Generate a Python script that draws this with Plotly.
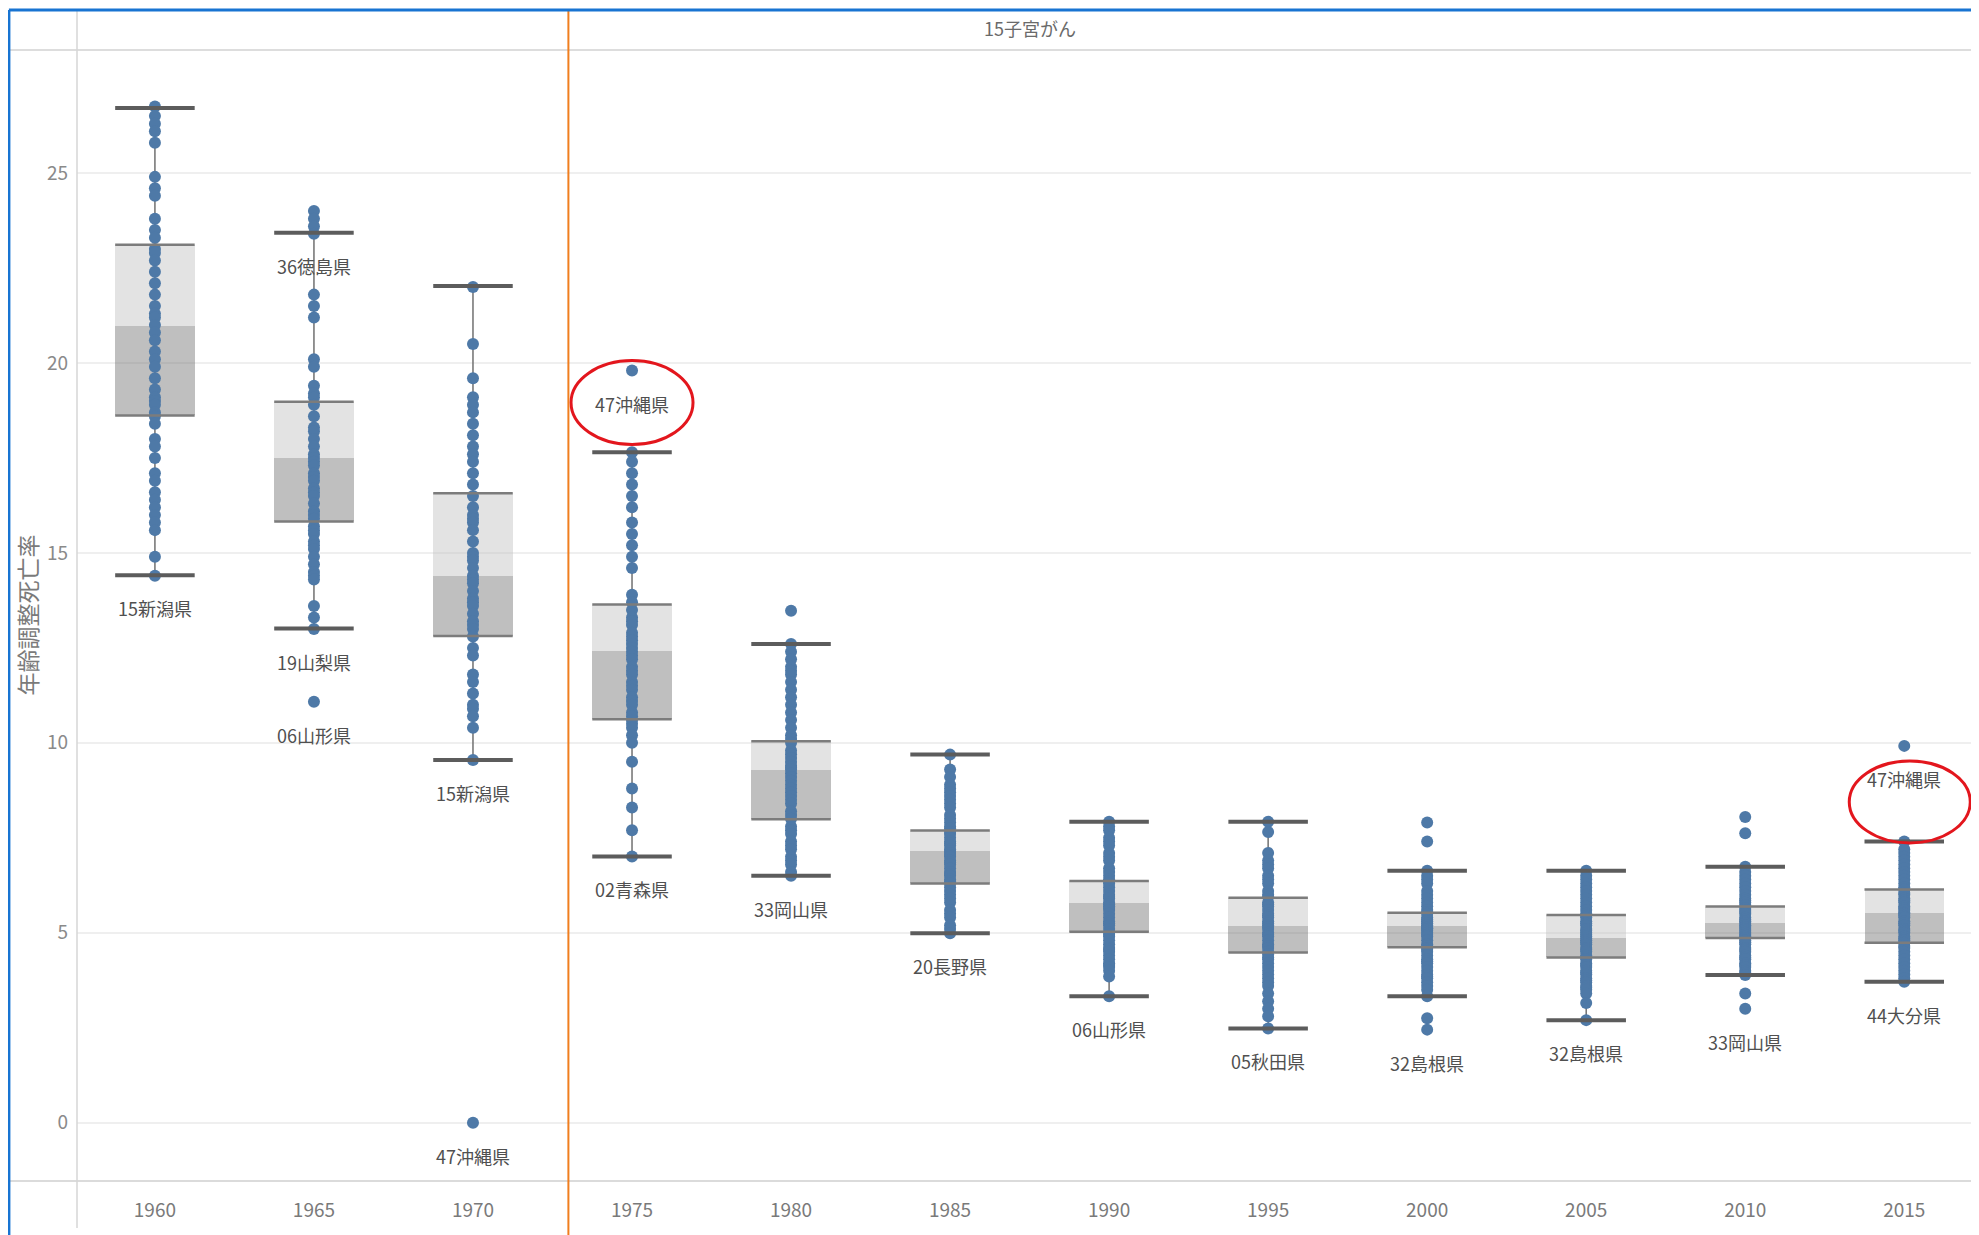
import plotly.graph_objects as go

years = ["1960", "1965", "1970", "1975", "1980", "1985", "1990", "1995", "2000", "2005", "2010", "2015"]

# prefecture rates (age-adjusted mortality) per year
rates_1960 = [26.75, 26.5, 26.3, 26.1, 25.8, 24.9, 24.6, 24.4, 23.8, 23.5, 23.3, 23.0, 22.9, 22.7, 22.4, 22.1,
              21.8, 21.5, 21.3, 21.2, 21.0, 20.8, 20.6, 20.3, 20.1, 19.9, 19.6, 19.3, 19.1, 19.0, 18.9, 18.7,
              18.6, 18.4, 18.0, 17.8, 17.5, 17.1, 16.9, 16.6, 16.4, 16.2, 16.0, 15.8, 15.6, 14.9, 14.4]
rates_1965 = [24.0, 23.8, 23.6, 23.4, 21.8, 21.5, 21.2, 20.1, 19.9, 19.4, 19.2, 19.1, 18.9, 18.6, 18.3, 18.2,
              18.0, 17.8, 17.6, 17.5, 17.4, 17.3, 17.1, 17.0, 16.9, 16.7, 16.6, 16.5, 16.3, 16.1, 16.0, 15.9,
              15.7, 15.6, 15.5, 15.3, 15.2, 15.1, 14.9, 14.7, 14.5, 14.4, 14.3, 13.6, 13.3, 13.0, 11.08]
rates_1970 = [22.0, 20.5, 19.6, 19.1, 18.9, 18.7, 18.4, 18.1, 17.8, 17.6, 17.4, 17.1, 16.8, 16.5, 16.2, 16.0,
              15.9, 15.8, 15.6, 15.3, 15.0, 14.9, 14.8, 14.6, 14.4, 14.3, 14.2, 14.0, 13.8, 13.7, 13.6, 13.4,
              13.2, 13.1, 13.0, 12.8, 12.5, 12.3, 11.8, 11.6, 11.3, 11.0, 10.9, 10.7, 10.4, 9.55, 0.0]
rates_1975 = [19.8, 17.65, 17.4, 17.1, 16.8, 16.5, 16.2, 15.8, 15.5, 15.2, 14.9, 14.6, 13.9, 13.7, 13.5, 13.3,
              13.2, 13.1, 12.9, 12.8, 12.7, 12.6, 12.5, 12.4, 12.3, 12.2, 12.0, 11.9, 11.8, 11.6, 11.5, 11.4,
              11.2, 11.1, 11.0, 10.8, 10.7, 10.6, 10.5, 10.4, 10.2, 10.0, 9.5, 8.8, 8.3, 7.7, 7.01]
rates_1980 = [13.48, 12.6, 12.4, 12.2, 12.0, 11.9, 11.8, 11.6, 11.4, 11.2, 11.0, 10.8, 10.6, 10.4, 10.2, 10.1,
              10.0, 9.8, 9.7, 9.6, 9.5, 9.4, 9.35, 9.3, 9.2, 9.1, 9.0, 8.9, 8.8, 8.7, 8.6, 8.5, 8.4, 8.2, 8.1,
              8.0, 7.8, 7.7, 7.6, 7.4, 7.3, 7.2, 7.0, 6.9, 6.8, 6.6, 6.5]
rates_1985 = [9.69, 9.3, 9.1, 8.9, 8.8, 8.7, 8.6, 8.5, 8.4, 8.3, 8.1, 8.0, 7.9, 7.8, 7.75, 7.65, 7.6, 7.5, 7.4,
              7.35, 7.3, 7.2, 7.15, 7.1, 7.05, 7.0, 6.9, 6.85, 6.8, 6.7, 6.6, 6.55, 6.5, 6.4, 6.35, 6.3, 6.2,
              6.1, 6.0, 5.9, 5.8, 5.6, 5.5, 5.4, 5.2, 5.1, 4.99]
rates_1990 = [7.92, 7.8, 7.7, 7.5, 7.4, 7.3, 7.1, 7.0, 6.9, 6.7, 6.6, 6.5, 6.4, 6.35, 6.3, 6.2, 6.1, 6.0, 5.95,
              5.9, 5.8, 5.75, 5.7, 5.65, 5.6, 5.5, 5.4, 5.3, 5.25, 5.2, 5.1, 5.0, 4.95, 4.9, 4.8, 4.7, 4.6,
              4.55, 4.5, 4.4, 4.3, 4.2, 4.15, 4.1, 4.0, 3.85, 3.33]
rates_1995 = [7.92, 7.65, 7.1, 6.9, 6.8, 6.7, 6.5, 6.4, 6.3, 6.1, 6.0, 5.95, 5.8, 5.75, 5.7, 5.6, 5.5, 5.45,
              5.4, 5.3, 5.25, 5.2, 5.15, 5.1, 5.0, 4.95, 4.9, 4.8, 4.7, 4.65, 4.6, 4.5, 4.43, 4.35, 4.3, 4.2,
              4.1, 4.0, 3.9, 3.8, 3.7, 3.6, 3.4, 3.2, 3.0, 2.8, 2.48]
rates_2000 = [7.9, 7.4, 6.63, 6.5, 6.4, 6.3, 6.1, 6.0, 5.9, 5.8, 5.7, 5.6, 5.55, 5.5, 5.4, 5.35, 5.3, 5.25,
              5.2, 5.15, 5.12, 5.1, 5.05, 5.0, 4.95, 4.9, 4.8, 4.7, 4.65, 4.6, 4.55, 4.5, 4.4, 4.3, 4.25, 4.2,
              4.1, 4.0, 3.9, 3.85, 3.8, 3.7, 3.6, 3.5, 3.33, 2.75, 2.45]
rates_2005 = [6.63, 6.5, 6.4, 6.3, 6.2, 6.1, 6.0, 5.9, 5.8, 5.7, 5.6, 5.5, 5.45, 5.4, 5.3, 5.25, 5.2, 5.1,
              5.05, 5.0, 4.95, 4.9, 4.85, 4.8, 4.75, 4.7, 4.6, 4.55, 4.5, 4.4, 4.35, 4.3, 4.2, 4.15, 4.1, 4.0,
              3.95, 3.9, 3.8, 3.75, 3.7, 3.6, 3.55, 3.5, 3.4, 3.15, 2.7]
rates_2010 = [8.05, 7.62, 6.74, 6.6, 6.5, 6.4, 6.3, 6.2, 6.1, 6.0, 5.9, 5.85, 5.8, 5.73, 5.65, 5.6, 5.55,
              5.5, 5.4, 5.35, 5.3, 5.26, 5.2, 5.15, 5.1, 5.05, 5.0, 4.95, 4.9, 4.86, 4.8, 4.75, 4.7, 4.6,
              4.55, 4.5, 4.4, 4.35, 4.3, 4.2, 4.15, 4.1, 4.0, 3.95, 3.89, 3.4, 3.0]
rates_2015 = [9.92, 7.4, 7.2, 7.1, 7.0, 6.9, 6.8, 6.7, 6.6, 6.5, 6.4, 6.3, 6.2, 6.14, 6.05, 6.0, 5.9, 5.85,
              5.8, 5.7, 5.65, 5.6, 5.53, 5.5, 5.45, 5.4, 5.3, 5.25, 5.2, 5.1, 5.05, 5.0, 4.9, 4.85, 4.8, 4.74,
              4.65, 4.6, 4.5, 4.4, 4.3, 4.2, 4.1, 4.0, 3.9, 3.8, 3.71]

# box statistics per year
whisker_low = [14.41, 13.01, 9.55, 7.01, 6.50, 4.99, 3.33, 2.48, 3.33, 2.70, 3.89, 3.71]
q1 = [18.62, 15.83, 12.81, 10.62, 7.99, 6.30, 5.03, 4.48, 4.62, 4.35, 4.86, 4.74]
median = [20.97, 17.51, 14.39, 12.42, 9.29, 7.14, 5.78, 5.19, 5.18, 4.85, 5.27, 5.53]
q3 = [23.11, 18.98, 16.57, 13.64, 10.04, 7.69, 6.36, 5.92, 5.53, 5.47, 5.69, 6.14]
whisker_high = [26.71, 23.43, 22.03, 17.65, 12.60, 9.69, 7.92, 7.92, 6.63, 6.63, 6.74, 7.40]

# prefecture labels
label_idx = [0, 1, 1, 1, 2, 2, 3, 3, 4, 5, 6, 7, 8, 9, 10, 11, 11]
label_value = [14.41, 23.43, 13.01, 11.08, 9.55, 0.0, 19.8, 7.01, 6.50, 4.99, 3.33, 2.48, 2.45, 2.70, 3.0, 9.92, 3.71]
label_text = ["15新潟県", "36徳島県", "19山梨県", "06山形県", "15新潟県", "47沖縄県", "47沖縄県", "02青森県",
              "33岡山県", "20長野県", "06山形県", "05秋田県", "32島根県", "32島根県", "33岡山県", "47沖縄県", "44大分県"]

# highlighted (circled) labels: year index and anchor value
circle_idx = [3, 11]
circle_value = [19.8, 9.92]

header_text = "15子宮がん"
y_title = "年齢調整死亡率"

all_rates = [rates_1960, rates_1965, rates_1970, rates_1975, rates_1980, rates_1985,
             rates_1990, rates_1995, rates_2000, rates_2005, rates_2010, rates_2015]

idx = list(range(len(years)))
BOX_W = 0.5
FONT = "Liberation Sans Narrow, Noto Sans CJK JP, sans-serif"

fig = go.Figure()

# whisker stems
wx, wy = [], []
for i in idx:
    wx += [i, i, None]
    wy += [whisker_low[i], whisker_high[i], None]
fig.add_trace(go.Scatter(x=wx, y=wy, mode="lines", line=dict(color="#707070", width=1.5),
                         hoverinfo="skip", showlegend=False))

# dots
dx, dy = [], []
for i in idx:
    dx += [i] * len(all_rates[i])
    dy += all_rates[i]
fig.add_trace(go.Scatter(x=dx, y=dy, mode="markers",
                         marker=dict(color="#4e79a7", size=12, line=dict(width=0)),
                         showlegend=False))

# box halves (semi-transparent over dots)
fig.add_trace(go.Bar(x=idx, y=[median[i] - q1[i] for i in idx], base=q1, width=BOX_W,
                     marker=dict(color="rgba(112,112,112,0.45)", line=dict(width=0)), showlegend=False))
fig.add_trace(go.Bar(x=idx, y=[q3[i] - median[i] for i in idx], base=median, width=BOX_W,
                     marker=dict(color="rgba(193,193,193,0.45)", line=dict(width=0)), showlegend=False))

# box edges (Q1, Q3)
ex, ey = [], []
for i in idx:
    for v in (q1[i], q3[i]):
        ex += [i - BOX_W / 2, i + BOX_W / 2, None]
        ey += [v, v, None]
fig.add_trace(go.Scatter(x=ex, y=ey, mode="lines", line=dict(color="#7c7c7c", width=2.5),
                         hoverinfo="skip", showlegend=False))

# whisker caps
cx, cy = [], []
for i in idx:
    for v in (whisker_low[i], whisker_high[i]):
        cx += [i - BOX_W / 2, i + BOX_W / 2, None]
        cy += [v, v, None]
fig.add_trace(go.Scatter(x=cx, y=cy, mode="lines", line=dict(color="#5c5c5c", width=4),
                         hoverinfo="skip", showlegend=False))

# labels
for i, v, t in zip(label_idx, label_value, label_text):
    fig.add_annotation(x=i, y=v, xref="x", yref="y", text=t, showarrow=False, yshift=-33,
                       font=dict(family=FONT, size=18, color="#505050"))

# red ellipses
ell = [dict(x0=-61, x1=61, y0=-74, y1=10), dict(x0=-55, x1=66, y0=-97, y1=-15)]
for k, (i, v) in enumerate(zip(circle_idx, circle_value)):
    e = ell[k]
    fig.add_shape(type="circle", xref="x", yref="y", xsizemode="pixel", ysizemode="pixel",
                  xanchor=i, yanchor=v, x0=e["x0"], x1=e["x1"], y0=e["y0"], y1=e["y1"],
                  line=dict(color="#e3161d", width=3))

# zero dotted line
fig.add_shape(type="line", xref="paper", yref="y", x0=0, x1=1, y0=0, y1=0,
              line=dict(color="#c4c4c4", width=1.5, dash="dot"), layer="below")

# frame lines
L = -0.0358
TOP = 1.0354
fig.add_shape(type="line", xref="paper", yref="paper", x0=L, x1=1, y0=1, y1=1,
              line=dict(color="#d2d2d2", width=1.5))
fig.add_shape(type="line", xref="paper", yref="paper", x0=L, x1=1, y0=0, y1=0,
              line=dict(color="#cfcfcf", width=1.5))
fig.add_shape(type="line", xref="paper", yref="paper", x0=0, x1=0, y0=-0.0416, y1=TOP,
              line=dict(color="#d6d6d6", width=1.5))
# orange separator between 1970 and 1975 panes
fig.add_shape(type="line", xref="x", yref="paper", x0=2.6, x1=2.6, y0=-0.05, y1=TOP,
              line=dict(color="#f07e1e", width=2))
# blue selection border
fig.add_shape(type="line", xref="paper", yref="paper", x0=L, x1=1.01, y0=TOP, y1=TOP,
              line=dict(color="#1874d2", width=3))
fig.add_shape(type="line", xref="paper", yref="paper", x0=L, x1=L, y0=-0.06, y1=TOP,
              line=dict(color="#1874d2", width=3))

fig.add_annotation(xref="paper", yref="paper", x=0.501, y=1.0194, text=header_text, showarrow=False,
                   yanchor="middle", font=dict(family=FONT, size=18, color="#6a6a6a"))
fig.add_annotation(xref="paper", yref="paper", x=-0.0268, y=0.5, text=y_title, showarrow=False,
                   textangle=-90, xanchor="center", yanchor="middle",
                   font=dict(family=FONT, size=23, color="#7a7a7a"))

fig.update_layout(
    width=1971, height=1227,
    margin=dict(l=69, r=0, t=42, b=54),
    paper_bgcolor="white", plot_bgcolor="white",
    barmode="overlay", bargap=0,
    showlegend=False,
    font=dict(family=FONT),
    xaxis=dict(range=[-0.49, 11.47], tickmode="array", tickvals=idx, ticktext=years,
               showgrid=False, zeroline=False, showline=False, ticks="",
               tickfont=dict(family=FONT, size=19, color="#7a7a7a"), ticklabelstandoff=16),
    yaxis=dict(range=[-1.535, 28.24], tickmode="array", tickvals=[0, 5, 10, 15, 20, 25],
               showgrid=True, gridcolor="#efefef", gridwidth=1.5, zeroline=False, showline=False,
               ticks="", tickfont=dict(family=FONT, size=19, color="#8a8a8a"), ticklabelstandoff=8),
)

fig.write_html("out.html")
